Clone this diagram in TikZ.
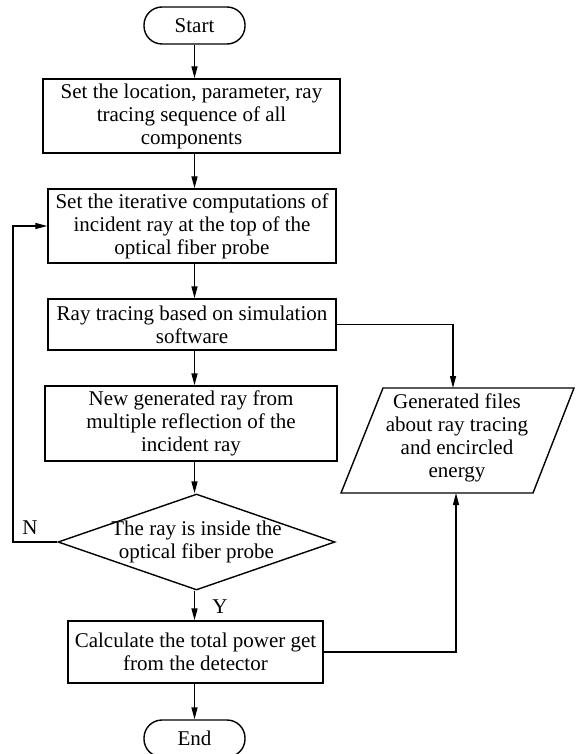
\documentclass[tikz,border=0pt]{standalone}
\usepackage{fontspec}
\setmainfont{Liberation Serif}
\usetikzlibrary{arrows.meta,shapes.geometric}
\begin{document}
\begin{tikzpicture}[x=1pt,y=-1pt,
  every node/.style={font=\fontsize{21}{23}\selectfont},
  box/.style={draw,line width=1.4pt,rectangle,inner sep=0pt,align=center},
  term/.style={draw,line width=1.4pt,rectangle,rounded corners=18pt,inner sep=0pt,minimum width=101pt,minimum height=37pt},
  conn/.style={line width=1.4pt,-{Triangle[length=12pt,width=6pt]}},
  plain/.style={line width=1.4pt}]
\useasboundingbox (0,0) rectangle (582,754);
\node[term] (start) at (194.5,25.5) {Start};
\node[box,minimum width=297pt,minimum height=74pt] (b1) at (191.5,116)
  {Set the location, parameter, ray\\tracing sequence of all\\components};
\node[box,minimum width=288pt,minimum height=74pt] (b2) at (192,226)
  {Set the iterative computations of\\incident ray at the top of the\\optical fiber probe};
\node[box,minimum width=288pt,minimum height=51pt] (b3) at (192,324.5)
  {Ray tracing based on simulation\\software};
\node[box,minimum width=292pt,minimum height=75pt] (b4) at (191,423.5)
  {New generated ray from\\multiple reflection of the\\incident ray};
\node[draw,line width=1.4pt,diamond,inner sep=0pt,minimum width=277pt,minimum height=96pt] (dia) at (196.5,542) {};
\node[align=center,inner sep=0pt] (diatext) at (196.5,542) {The ray is inside the\\optical fiber probe};
\node[box,minimum width=255pt,minimum height=62pt] (b5) at (195.5,652)
  {Calculate the total power get\\from the detector};
\node[term] (end) at (194.5,738.5) {End};
% parallelogram
\coordinate (ptl) at (383,388);
\coordinate (ptr) at (574,388);
\coordinate (pbr) at (533,493);
\coordinate (pbl) at (341,493);
\draw[plain,line join=miter] (ptl) -- (ptr) -- (pbr) -- (pbl) -- cycle;
\node[align=center,inner sep=0pt] (partext) at (457,438)
  {Generated files\\about ray tracing\\and encircled\\energy};
\coordinate (partop) at (453,388);
\coordinate (parbot) at (456,493);
% main flow
\draw[conn] (start.south) -- (start.south |- b1.north);
\draw[conn] (start.south |- b1.south) -- (start.south |- b2.north);
\draw[conn] (start.south |- b2.south) -- (start.south |- b3.north);
\draw[conn] (start.south |- b3.south) -- (start.south |- b4.north);
\draw[conn] (start.south |- b4.south) -- (start.south |- dia.north);
\draw[conn] (start.south |- dia.south) -- (start.south |- b5.north);
\draw[conn] (start.south |- b5.south) -- (end.north);
% loop
\coordinate (loopx) at (13,542);
\draw[conn] (dia.west) -- (loopx) |- (b2.west);
\node (nlab) at (30,528) {N};
\node (ylab) at (220,607) {Y};
% side
\draw[conn] (b3.east) -| (partop);
\draw[conn] (b5.east) -| (parbot);
\end{tikzpicture}
\end{document}
